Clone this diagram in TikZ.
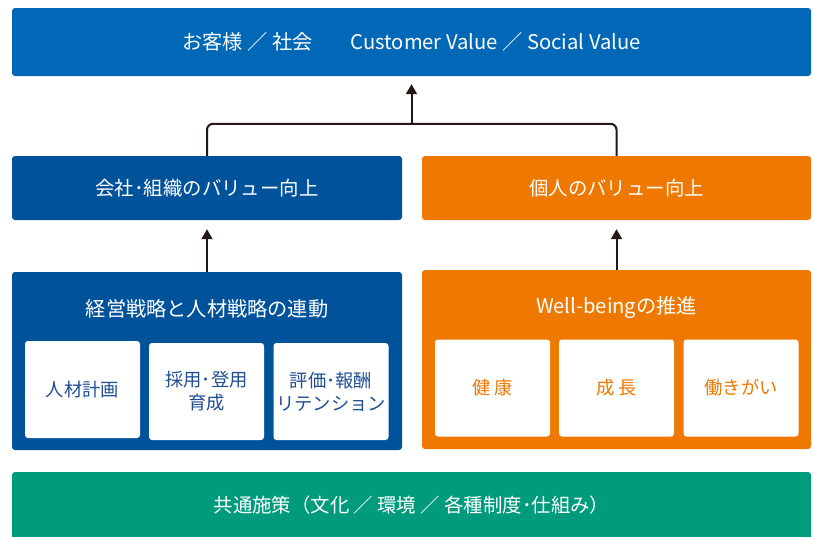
\documentclass[tikz,border=0pt]{standalone}
\usepackage{fontspec}
\setmainfont{Noto Sans CJK JP}
\usetikzlibrary{arrows.meta}
\definecolor{topblue}{HTML}{0068B7}
\definecolor{darkblue}{HTML}{00529B}
\definecolor{orng}{HTML}{EE7800}
\definecolor{grn}{HTML}{009B7C}
\definecolor{ink}{HTML}{231815}
\definecolor{bluetext}{HTML}{1F4E92}
\tikzset{
  bar/.style={draw=none, rounded corners=3pt, inner sep=0pt, text=white, font=\fontsize{19.4}{23}\selectfont},
  inbox/.style={fill=white, rounded corners=3pt, minimum width=115pt, minimum height=97pt, inner sep=0pt, align=center, font=\fontsize{18.3}{23}\selectfont},
  heading/.style={text=white, font=\fontsize{20.2}{24}\selectfont, inner sep=0pt},
  conn/.style={draw=ink, line width=2pt},
  arr/.style={conn, -{Triangle[width=11pt,length=10pt]}}
}
\begin{document}
\begin{tikzpicture}[x=1pt,y=-1pt]
\useasboundingbox (0,0) rectangle (813,536);
\clip (0,0) rectangle (813,536);
\node[bar, fill=topblue, minimum width=799pt, minimum height=68pt, font=\fontsize{20.2}{24}\selectfont] (top) at (411.5,42) {お客様 ／ 社会\hspace{38pt}Customer Value ／ Social Value};
\node[bar, fill=darkblue, minimum width=390pt, minimum height=64pt] (lmid) at (207,188) {会社･組織のバリュー向上};
\node[bar, fill=orng, minimum width=389pt, minimum height=64pt] (rmid) at (616.5,188) {個人のバリュー向上};
\node[bar, fill=darkblue, minimum width=390pt, minimum height=178pt] (lbig) at (207,361) {};
\node[bar, fill=orng, minimum width=389pt, minimum height=179pt] (rbig) at (616.5,359.5) {};
\node[heading] (lhead) at (207,308.5) {経営戦略と人材戦略の連動};
\node[heading] (rhead) at (616.5,307.5) {Well-beingの推進};
\node[inbox, text=bluetext] (l1) at (82.5,389.5) {\raisebox{-1.5pt}{人材計画}};
\node[inbox, text=bluetext] (l2) at (206.5,391.5) {採用･登用\\育成};
\node[inbox, text=bluetext] (l3) at (331,391.5) {評価･報酬\\リテンション};
\node[inbox, text=orng] (r1) at (492.5,388) {\raisebox{-1.5pt}{健 康}};
\node[inbox, text=orng] (r2) at (616.5,388) {\raisebox{-1.5pt}{成 長}};
\node[inbox, text=orng] (r3) at (741,388) {\raisebox{-1.5pt}{働きがい}};
\node[bar, fill=grn, minimum width=799pt, minimum height=72pt] (bottom) at (411.5,508) {};
\node[text=white, font=\fontsize{19.4}{23}\selectfont, inner sep=0pt] (btext) at (411.5,505) {共通施策（文化 ／ 環境 ／ 各種制度･仕組み）};
\draw[conn, rounded corners=6pt] (lmid.north) -- ++(0,-32) -| (rmid.north);
\coordinate (junction) at (411.5,124);
\draw[arr, shorten >=8pt] (junction) -- (top.south -| junction);
\draw[arr, shorten >=9pt] (lbig.north) -- (lmid.south);
\draw[arr, shorten >=9pt] (rbig.north) -- (rmid.south);
\end{tikzpicture}
\end{document}
